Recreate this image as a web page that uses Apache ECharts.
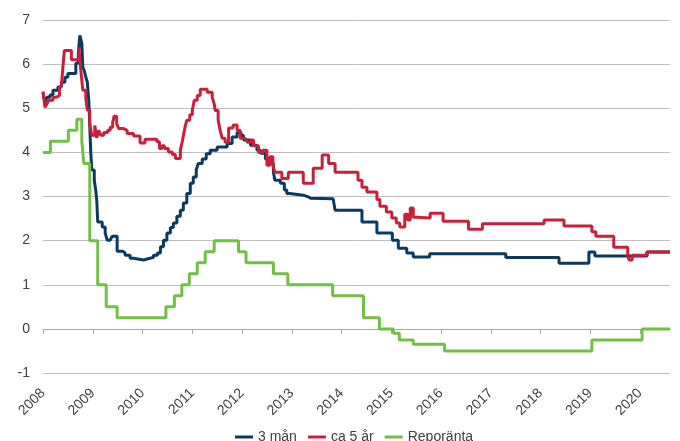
<!DOCTYPE html>
<html>
<head>
<meta charset="utf-8">
<script src="https://cdn.jsdelivr.net/npm/echarts@6/dist/echarts.min.js"></script>
<style>
  html, body { margin: 0; padding: 0; background: #fff; }
  #chart { width: 680px; height: 441px; }
</style>
</head>
<body>
<div id="chart"></div>
<script>
// x = decimal year, y = rate in %. Each point is where the rate changes to a new level.
let years = [2008, 2009, 2010, 2011, 2012, 2013, 2014, 2015, 2016, 2017, 2018, 2019, 2020];

let tremanader = [
  [2008.00, 5.34], [2008.04, 5.14], [2008.08, 5.25], [2008.14, 5.30], [2008.20, 5.41],
  [2008.30, 5.48], [2008.37, 5.59], [2008.44, 5.70], [2008.50, 5.79], [2008.66, 6.02],
  [2008.71, 6.24], [2008.74, 6.65], [2008.78, 6.47], [2008.80, 5.93], [2008.83, 5.85],
  [2008.85, 5.75], [2008.89, 5.59], [2008.92, 5.18], [2008.94, 4.60], [2008.96, 4.00],
  [2008.98, 3.60], [2009.03, 3.37], [2009.06, 3.14], [2009.08, 2.92], [2009.10, 2.42],
  [2009.19, 2.31], [2009.25, 2.17], [2009.29, 2.01], [2009.35, 2.05], [2009.39, 2.10],
  [2009.49, 1.76], [2009.60, 1.72], [2009.65, 1.67], [2009.75, 1.60], [2009.82, 1.56],
  [2010.02, 1.60], [2010.15, 1.62], [2010.22, 1.67], [2010.30, 1.72], [2010.36, 1.86],
  [2010.42, 2.01], [2010.49, 2.17], [2010.56, 2.30], [2010.62, 2.40], [2010.69, 2.55],
  [2010.76, 2.69], [2010.82, 2.85], [2010.89, 3.07], [2010.96, 3.30], [2011.02, 3.44],
  [2011.08, 3.60], [2011.12, 3.75], [2011.20, 3.85], [2011.28, 3.97], [2011.36, 4.05],
  [2011.50, 4.12], [2011.70, 4.20], [2011.80, 4.35], [2011.90, 4.45], [2011.98, 4.38],
  [2012.03, 4.28], [2012.17, 4.16], [2012.30, 4.05], [2012.37, 3.98], [2012.47, 3.85],
  [2012.57, 3.75], [2012.63, 3.55], [2012.66, 3.37], [2012.77, 3.30], [2012.85, 3.15],
  [2012.90, 3.07], [2012.96, 3.03], [2013.23, 2.99], [2013.33, 2.96], [2013.38, 3.00],
  [2013.42, 2.95], [2013.83, 2.92], [2013.87, 2.69], [2014.41, 2.42], [2014.71, 2.17],
  [2015.02, 2.01], [2015.14, 1.83], [2015.31, 1.72], [2015.44, 1.63], [2015.77, 1.70],
  [2017.30, 1.62], [2018.37, 1.49], [2018.97, 1.74], [2019.09, 1.65], [2020.14, 1.74],
  [2020.60, 1.74]
];

let femar = [
  [2008.00, 5.38], [2008.04, 5.02], [2008.08, 5.10], [2008.12, 5.18], [2008.20, 5.25],
  [2008.27, 5.29], [2008.33, 5.45], [2008.37, 5.52], [2008.40, 5.93], [2008.43, 6.31],
  [2008.57, 6.10], [2008.72, 6.38], [2008.76, 5.86], [2008.80, 5.41], [2008.86, 5.23],
  [2008.89, 4.96], [2008.94, 4.65], [2008.98, 4.39], [2009.04, 4.61], [2009.08, 4.33],
  [2009.12, 4.50], [2009.16, 4.39], [2009.22, 4.45], [2009.30, 4.50], [2009.35, 4.57],
  [2009.40, 4.68], [2009.43, 4.82], [2009.48, 4.65], [2009.52, 4.54], [2009.62, 4.50],
  [2009.69, 4.43], [2009.82, 4.37], [2009.95, 4.21], [2010.05, 4.30], [2010.29, 4.24],
  [2010.34, 4.09], [2010.39, 4.15], [2010.44, 4.09], [2010.52, 4.01], [2010.60, 3.95],
  [2010.66, 3.86], [2010.76, 4.05], [2010.80, 4.25], [2010.83, 4.43], [2010.86, 4.60],
  [2010.89, 4.73], [2010.95, 4.85], [2011.00, 4.95], [2011.04, 5.18], [2011.10, 5.29],
  [2011.16, 5.43], [2011.30, 5.36], [2011.40, 5.25], [2011.44, 5.10], [2011.46, 4.95],
  [2011.52, 4.73], [2011.56, 4.50], [2011.60, 4.32], [2011.66, 4.23], [2011.73, 4.55],
  [2011.82, 4.62], [2011.90, 4.50], [2011.96, 4.32], [2012.05, 4.28], [2012.10, 4.23],
  [2012.18, 4.28], [2012.23, 4.15], [2012.33, 4.00], [2012.42, 4.05], [2012.50, 3.71],
  [2012.56, 3.90], [2012.62, 3.70], [2012.66, 3.55], [2012.80, 3.41], [2012.93, 3.55],
  [2013.23, 3.30], [2013.43, 3.64], [2013.61, 3.94], [2013.74, 3.75], [2013.87, 3.55],
  [2014.33, 3.37], [2014.41, 3.21], [2014.51, 3.10], [2014.71, 2.93], [2014.77, 2.78],
  [2014.90, 2.65], [2015.01, 2.51], [2015.10, 2.40], [2015.17, 2.31], [2015.27, 2.60],
  [2015.33, 2.47], [2015.38, 2.74], [2015.44, 2.53], [2015.51, 2.51], [2015.78, 2.62],
  [2016.04, 2.44], [2016.55, 2.26], [2016.83, 2.38], [2018.07, 2.47], [2018.47, 2.33],
  [2019.03, 2.20], [2019.11, 2.10], [2019.47, 1.85], [2019.75, 1.65], [2019.78, 1.56],
  [2019.84, 1.67], [2020.13, 1.74], [2020.60, 1.74]
];

let repo = [
  [2008.00, 4.00], [2008.15, 4.25], [2008.51, 4.50], [2008.68, 4.75], [2008.78, 4.25],
  [2008.82, 3.75], [2008.94, 2.00], [2009.10, 1.00], [2009.27, 0.50], [2009.49, 0.25],
  [2010.47, 0.50], [2010.64, 0.75], [2010.79, 1.00], [2010.94, 1.25], [2011.10, 1.50],
  [2011.26, 1.75], [2011.44, 2.00], [2011.93, 1.75], [2012.08, 1.50], [2012.63, 1.25],
  [2012.92, 1.00], [2013.82, 0.75], [2014.44, 0.25], [2014.76, 0.00], [2015.04, -0.10],
  [2015.16, -0.25], [2015.44, -0.35], [2016.07, -0.50], [2019.03, -0.25], [2020.04, 0.00],
  [2020.60, 0.00]
];

let seriesNames = ['3 mån', 'ca 5 år', 'Reporänta'];
let colors = ['#0B3A5E', '#C8203A', '#72BF44'];

let chart = echarts.init(document.getElementById('chart'));

let labelFont = 'Liberation Sans, Arial, sans-serif';
let gridColor = '#BFBFBF';

function lineSeries(name, data, color) {
  return {
    name: name,
    type: 'line',
    xAxisIndex: 0,
    step: 'end',
    data: data,
    showSymbol: false,
    symbol: 'none',
    lineStyle: { color: color, width: 3 },
    itemStyle: { color: color }
  };
}

let option = {
  animation: false,
  backgroundColor: '#fff',
  color: colors,
  grid: { left: 43, right: 10, top: 20, bottom: 68 },
  legend: {
    left: 230,
    top: 425,
    icon: 'rect',
    itemWidth: 18,
    itemHeight: 3,
    itemGap: 11,
    textStyle: { fontFamily: labelFont, fontSize: 14, color: '#404040' },
    data: seriesNames
  },
  xAxis: [
    {
      type: 'value',
      min: 2008,
      max: 2020.6,
      interval: 1,
      position: 'bottom',
      axisLine: { show: false, onZero: false },
      axisTick: { show: false },
      splitLine: { show: false },
      axisLabel: {
        rotate: 45,
        margin: 18,
        fontFamily: labelFont,
        fontSize: 14,
        color: '#404040',
        customValues: years,
        formatter: function (v) { return Number.isInteger(v) ? String(v) : ''; }
      }
    },
    {
      // only draws the line at y = 0 with the year ticks
      type: 'value',
      min: 2008,
      max: 2020.6,
      interval: 1,
      position: 'bottom',
      axisLine: { show: true, onZero: true, lineStyle: { color: '#A6A6A6', width: 1 } },
      axisTick: { show: true, length: 5, customValues: years, lineStyle: { color: '#A6A6A6', width: 1 } },
      axisLabel: { show: false },
      splitLine: { show: false }
    }
  ],
  yAxis: {
    type: 'value',
    min: -1,
    max: 7,
    interval: 1,
    axisLine: { show: false },
    axisTick: { show: false },
    axisLabel: { margin: 13, fontFamily: labelFont, fontSize: 14, color: '#404040' },
    splitLine: { lineStyle: { color: gridColor, width: 1 } }
  },
  series: [
    lineSeries(seriesNames[0], tremanader, colors[0]),
    lineSeries(seriesNames[1], femar, colors[1]),
    lineSeries(seriesNames[2], repo, colors[2])
  ]
};

chart.setOption(option);
</script>
</body>
</html>
